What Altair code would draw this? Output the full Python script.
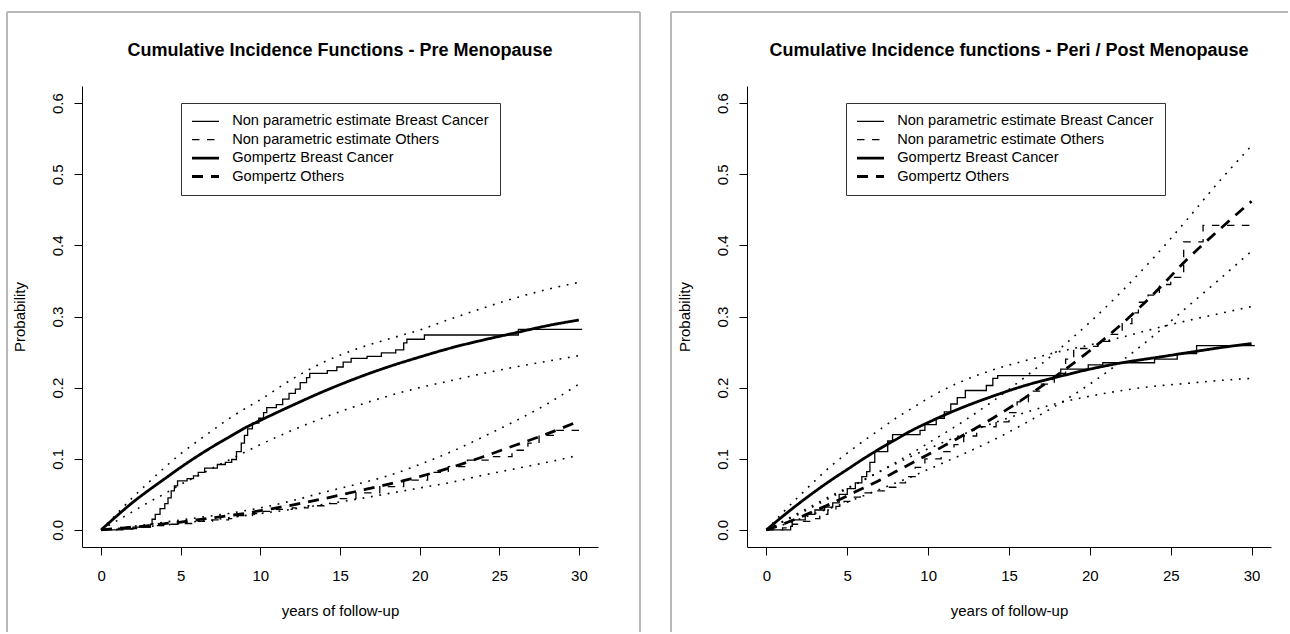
import altair as alt
import pandas as pd

FONT = "Liberation Sans"
FRAME_GREY = "#b9b9b9"

# ---- shared reading grid (years of follow-up) for the fitted curves ----
YEARS = [0, 1, 2, 3, 4, 5, 6, 7, 8, 9, 10, 12, 14, 16, 18, 20, 22, 24, 26, 28, 30]

X_TICKS = [0, 5, 10, 15, 20, 25, 30]
Y_TICKS = [0.0, 0.1, 0.2, 0.3, 0.4, 0.5, 0.6]

SERIES = [
    "Non parametric estimate Breast Cancer",
    "Non parametric estimate Others",
    "Gompertz Breast Cancer",
    "Gompertz Others",
]
DASHES = [[1, 0], [7.5, 7.5], [1, 0], [11, 8]]
WIDTHS = [1.3, 1.3, 2.8, 2.8]

# ---- Pre menopause ----
pre_gomp_bc = [0, 0.020, 0.039, 0.056, 0.072, 0.088, 0.103, 0.117, 0.130, 0.143, 0.154,
               0.175, 0.195, 0.213, 0.229, 0.243, 0.256, 0.267, 0.277, 0.287, 0.295]
pre_gomp_bc_lo = [0, 0.013, 0.026, 0.039, 0.051, 0.064, 0.075, 0.087, 0.098, 0.109, 0.120,
                  0.140, 0.158, 0.174, 0.188, 0.200, 0.210, 0.220, 0.229, 0.237, 0.245]
pre_gomp_bc_hi = [0, 0.023, 0.046, 0.067, 0.088, 0.107, 0.124, 0.140, 0.156, 0.170, 0.183,
                  0.212, 0.236, 0.254, 0.268, 0.281, 0.297, 0.312, 0.326, 0.338, 0.348]
pre_gomp_oth = [0, 0.002, 0.004, 0.006, 0.009, 0.011, 0.014, 0.017, 0.020, 0.023, 0.027,
                0.035, 0.044, 0.054, 0.064, 0.075, 0.088, 0.103, 0.119, 0.135, 0.153]
pre_gomp_oth_lo = [0, 0.001, 0.003, 0.005, 0.007, 0.009, 0.012, 0.014, 0.017, 0.020, 0.023,
                   0.029, 0.036, 0.043, 0.051, 0.059, 0.067, 0.077, 0.086, 0.095, 0.105]
pre_gomp_oth_hi = [0, 0.002, 0.005, 0.008, 0.011, 0.014, 0.017, 0.020, 0.023, 0.027, 0.031,
                   0.041, 0.053, 0.064, 0.076, 0.092, 0.110, 0.131, 0.153, 0.177, 0.205]

pre_np_bc_t = [0, 1.0, 2.0, 3.1, 3.2, 3.4, 3.7, 4.0, 4.2, 4.4, 4.6, 4.8, 5.4, 5.8, 6.1, 6.5,
               7.3, 7.8, 8.2, 8.5, 8.8, 9.0, 9.2, 9.5, 9.9, 10.2, 10.4, 11.0, 11.4, 11.8,
               12.2, 12.5, 12.9, 13.1, 14.2, 14.8, 15.2, 15.7, 16.7, 17.6, 18.5, 19.0,
               19.2, 20.3, 26.2, 30.2]
pre_np_bc = [0, 0.001, 0.004, 0.008, 0.015, 0.022, 0.030, 0.037, 0.045, 0.055, 0.062, 0.069,
             0.072, 0.076, 0.081, 0.087, 0.092, 0.095, 0.099, 0.110, 0.122, 0.133, 0.142,
             0.150, 0.157, 0.165, 0.172, 0.176, 0.184, 0.192, 0.198, 0.207, 0.214, 0.220,
             0.224, 0.229, 0.236, 0.241, 0.244, 0.249, 0.253, 0.263, 0.268, 0.274, 0.282,
             0.282]
pre_np_oth_t = [0, 1.5, 2.5, 3.2, 4.2, 5.0, 6.0, 7.0, 8.0, 8.6, 9.5, 10.2, 11.0, 12.0, 13.0,
                14.0, 15.0, 16.0, 17.5, 19.0, 20.5, 21.8, 23.0, 24.3, 25.8, 26.8, 27.5,
                28.6, 30.2]
pre_np_oth = [0, 0.002, 0.004, 0.006, 0.008, 0.009, 0.012, 0.014, 0.016, 0.020, 0.023, 0.026,
              0.029, 0.031, 0.034, 0.037, 0.044, 0.052, 0.061, 0.070, 0.081, 0.089, 0.098,
              0.103, 0.112, 0.122, 0.133, 0.140, 0.140]

# ---- Peri / Post menopause ----
post_gomp_bc = [0, 0.019, 0.037, 0.054, 0.070, 0.085, 0.100, 0.114, 0.127, 0.140, 0.151,
                0.171, 0.188, 0.203, 0.215, 0.226, 0.235, 0.242, 0.249, 0.256, 0.262]
post_gomp_bc_lo = [0, 0.012, 0.024, 0.036, 0.048, 0.059, 0.070, 0.082, 0.093, 0.104, 0.114,
                   0.133, 0.150, 0.165, 0.178, 0.188, 0.196, 0.202, 0.206, 0.210, 0.213]
post_gomp_bc_hi = [0, 0.024, 0.047, 0.069, 0.090, 0.108, 0.125, 0.141, 0.157, 0.171, 0.185,
                   0.208, 0.225, 0.238, 0.250, 0.260, 0.271, 0.283, 0.294, 0.304, 0.314]
post_gomp_oth = [0, 0.008, 0.017, 0.027, 0.037, 0.048, 0.059, 0.070, 0.082, 0.094, 0.106,
                 0.131, 0.157, 0.186, 0.218, 0.252, 0.290, 0.333, 0.380, 0.422, 0.462]
post_gomp_oth_lo = [0, 0.007, 0.015, 0.023, 0.031, 0.039, 0.048, 0.057, 0.066, 0.075, 0.085,
                    0.105, 0.126, 0.150, 0.176, 0.205, 0.238, 0.274, 0.313, 0.352, 0.392]
post_gomp_oth_hi = [0, 0.011, 0.022, 0.034, 0.046, 0.058, 0.070, 0.082, 0.095, 0.108, 0.122,
                    0.150, 0.181, 0.215, 0.252, 0.292, 0.336, 0.384, 0.436, 0.490, 0.540]

post_np_bc_t = [0, 1.5, 1.6, 2.4, 3.0, 3.6, 4.1, 4.5, 5.0, 5.5, 5.9, 6.2, 6.4, 6.7, 7.5, 7.8,
                9.5, 9.8, 10.5, 11.0, 11.4, 11.8, 12.3, 13.6, 14.0, 14.3, 18.2, 19.9, 20.8,
                24.0, 25.4, 26.6, 30.2]
post_np_bc = [0, 0.005, 0.014, 0.022, 0.028, 0.032, 0.038, 0.050, 0.058, 0.066, 0.075, 0.082,
              0.095, 0.110, 0.125, 0.134, 0.140, 0.148, 0.157, 0.166, 0.177, 0.186, 0.196,
              0.203, 0.213, 0.217, 0.226, 0.232, 0.235, 0.240, 0.248, 0.259, 0.259]
post_np_oth_t = [0, 1.0, 1.6, 2.2, 2.8, 3.3, 3.8, 4.3, 4.8, 5.3, 5.8, 6.5, 7.3, 8.0, 8.6, 9.2,
                 9.8, 10.8, 11.6, 12.2, 13.0, 14.2, 15.0, 15.5, 16.2, 17.0, 17.8, 18.5, 19.0,
                 20.0, 20.5, 21.3, 22.0, 22.6, 23.0, 23.6, 24.3, 25.0, 25.8, 27.0, 30.2]
post_np_oth = [0, 0.003, 0.008, 0.012, 0.016, 0.022, 0.028, 0.033, 0.040, 0.046, 0.052, 0.055,
               0.060, 0.066, 0.075, 0.088, 0.100, 0.110, 0.120, 0.132, 0.145, 0.152, 0.165,
               0.180, 0.195, 0.205, 0.220, 0.240, 0.255, 0.258, 0.265, 0.275, 0.290, 0.305,
               0.320, 0.330, 0.345, 0.355, 0.405, 0.428, 0.428]

PLOT_H = 461
ONE_ROW = pd.DataFrame({"k": [0]})


def long_table(key, pieces):
    rows = []
    for name, ts, ps in pieces:
        for t, p in zip(ts, ps):
            rows.append({"t": t, "p": p, key: name})
    return pd.DataFrame(rows)


def frame_rule(**pos):
    # grey panel border drawn around each figure
    enc = {k: alt.value(v) for k, v in pos.items()}
    return alt.Chart(ONE_ROW).mark_rule(color=FRAME_GREY, strokeWidth=2).encode(**enc)


def heading(text, width):
    return alt.Chart(ONE_ROW).mark_text(
        text=text, font=FONT, fontSize=18, fontWeight="bold", color="black",
        align="center", baseline="alphabetic",
    ).encode(x=alt.value(width / 2), y=alt.value(-30.5))


def panel(title, width, gomp_bc, bc_lo, bc_hi, gomp_oth, oth_lo, oth_hi,
          np_bc_t, np_bc, np_oth_t, np_oth, frame_left, frame_right=None, frame_top_end=None):
    x_enc = alt.X(
        "t:Q",
        scale=alt.Scale(domain=[-1.2, 31.2], nice=False, zero=False),
        axis=alt.Axis(
            values=X_TICKS, format="d", grid=False,
            domainColor="black", domainWidth=1,
            tickColor="black", tickSize=8, tickWidth=1,
            labelFont=FONT, labelFontSize=15, labelColor="black",
            labelBaseline="alphabetic", labelPadding=25, labelFlush=False,
            title="years of follow-up", titleFont=FONT, titleFontSize=15,
            titleFontWeight="normal", titleColor="black",
            titleX=width / 2, titleY=68, titleAlign="center", titleBaseline="alphabetic",
        ),
    )
    y_enc = alt.Y(
        "p:Q",
        scale=alt.Scale(domain=[-0.024, 0.624], nice=False, zero=False),
        axis=alt.Axis(
            values=Y_TICKS, format=".1f", grid=False,
            domainColor="black", domainWidth=1,
            tickColor="black", tickSize=8, tickWidth=1,
            labelFont=FONT, labelFontSize=15, labelColor="black",
            labelAngle=270, labelAlign="center", labelBaseline="alphabetic",
            labelPadding=12, labelFlush=False,
            title="Probability", titleFont=FONT, titleFontSize=15,
            titleFontWeight="normal", titleColor="black",
            titleAngle=270, titleX=-58, titleY=PLOT_H / 2,
            titleAlign="center", titleBaseline="alphabetic",
        ),
    )

    legend = alt.Legend(
        title=None, orient="none", legendX=99, legendY=17,
        direction="vertical",
        symbolType="M-3,0H3", symbolSize=81, symbolOffset=6.2,
        symbolStrokeColor="black",
        labelOffset=19.4, labelFont=FONT, labelFontSize=14.6, labelColor="black",
        labelLimit=400, padding=11, rowPadding=3.4,
        strokeColor="#333333", fillColor="white", cornerRadius=0,
    )
    dash = alt.StrokeDash("series:N", scale=alt.Scale(domain=SERIES, range=DASHES), legend=legend)
    wid = alt.StrokeWidth(
        "series:N", scale=alt.Scale(type="ordinal", domain=SERIES, range=WIDTHS), legend=legend
    )

    bands = long_table("band", [
        ("bc_lo", YEARS, bc_lo), ("bc_hi", YEARS, bc_hi),
        ("oth_lo", YEARS, oth_lo), ("oth_hi", YEARS, oth_hi),
    ])
    fits = long_table("series", [
        (SERIES[2], YEARS, gomp_bc), (SERIES[3], YEARS, gomp_oth),
    ])
    steps = long_table("series", [
        (SERIES[0], np_bc_t, np_bc), (SERIES[1], np_oth_t, np_oth),
    ])

    band_layer = alt.Chart(bands).mark_line(
        interpolate="monotone", color="black", strokeWidth=1.6, strokeDash=[1.8, 6.7]
    ).encode(x=x_enc, y=y_enc, detail="band:N")

    fit_layer = alt.Chart(fits).mark_line(
        interpolate="monotone", color="black"
    ).encode(x=x_enc, y=y_enc, strokeDash=dash, strokeWidth=wid)

    step_layer = alt.Chart(steps).mark_line(
        interpolate="step-after", color="black"
    ).encode(x=x_enc, y=y_enc, strokeDash=dash, strokeWidth=wid)

    layers = [band_layer, step_layer, fit_layer, heading(title, width),
              frame_rule(x=frame_left, y=-74, y2=546),
              frame_rule(x=frame_left, x2=frame_top_end, y=-74)]
    if frame_right is not None:
        layers.append(frame_rule(x=frame_right, y=-74, y2=546))

    return alt.layer(*layers).properties(width=width, height=PLOT_H)


left = panel(
    "Cumulative Incidence Functions - Pre Menopause", 516,
    pre_gomp_bc, pre_gomp_bc_lo, pre_gomp_bc_hi,
    pre_gomp_oth, pre_gomp_oth_lo, pre_gomp_oth_hi,
    pre_np_bc_t, pre_np_bc, pre_np_oth_t, pre_np_oth,
    frame_left=-75, frame_right=558, frame_top_end=558,
)
right = panel(
    "Cumulative Incidence functions - Peri / Post Menopause", 524,
    post_gomp_bc, post_gomp_bc_lo, post_gomp_bc_hi,
    post_gomp_oth, post_gomp_oth_lo, post_gomp_oth_hi,
    post_np_bc_t, post_np_bc, post_np_oth_t, post_np_oth,
    frame_left=-76, frame_top_end=541,
)

chart = (
    alt.hconcat(left, right, spacing=29)
    .resolve_scale(x="independent", y="independent",
                   strokeDash="independent", strokeWidth="independent")
    .resolve_legend(strokeDash="independent", strokeWidth="independent")
    .properties(padding={"left": 6, "top": 11, "right": 0, "bottom": 0},
                background="white")
    .configure_view(stroke=None)
)

chart.save("out.html", embed_options={"renderer": "svg", "actions": False})
